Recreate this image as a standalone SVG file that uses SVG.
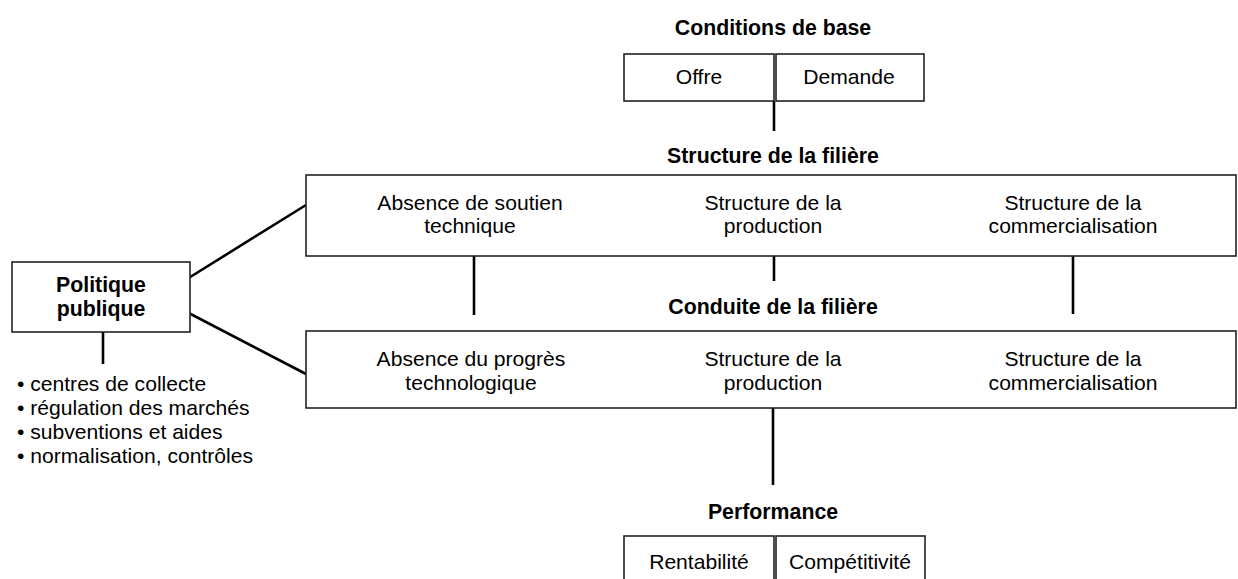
<svg xmlns="http://www.w3.org/2000/svg" width="1238" height="579" viewBox="0 0 1238 579">
<style>
text{font-family:"Liberation Sans",Arial,Helvetica,sans-serif;font-size:21.1px;fill:#000}
.b{font-weight:bold;font-size:21.3px}
.c{text-anchor:middle}
.box{fill:#fff;stroke:#222;stroke-width:1.6}
.ln{stroke:#000;stroke-width:2.6;fill:none}
</style>
<rect width="1238" height="579" fill="#fff"/>
<g id="connectors">
<line class="ln" x1="774" y1="101" x2="774" y2="131"/>
<line class="ln" x1="585" y1="218" x2="682" y2="218"/>
<line class="ln" x1="866" y1="218" x2="963" y2="218"/>
<line class="ln" x1="577" y1="378" x2="689" y2="378"/>
<line class="ln" x1="871" y1="378" x2="967" y2="378"/>
<line class="ln" x1="474" y1="256" x2="474" y2="315"/>
<line class="ln" x1="774" y1="256" x2="774" y2="281"/>
<line class="ln" x1="1073" y1="256" x2="1073" y2="314"/>
<line class="ln" x1="773" y1="408" x2="773" y2="485"/>
<line class="ln" x1="187" y1="279" x2="306" y2="205"/>
<line class="ln" x1="181" y1="309" x2="306" y2="374"/>
<line class="ln" x1="103" y1="332" x2="103" y2="364"/>
</g>
<g id="conditions">
<text class="b c" x="773" y="35">Conditions de base</text>
<rect class="box" x="624" y="54" width="150" height="47"/>
<rect class="box" x="776" y="54" width="148" height="47"/>
<text class="c" x="699" y="84">Offre</text>
<text class="c" x="849" y="84">Demande</text>
</g>
<g id="structure">
<text class="b c" x="773" y="163">Structure de la filière</text>
<rect class="box" x="306" y="175" width="930" height="81"/>
<text class="c" x="470" y="210">Absence de soutien</text>
<text class="c" x="470" y="233">technique</text>
<text class="c" x="773" y="210">Structure de la</text>
<text class="c" x="773" y="233">production</text>
<text class="c" x="1073" y="210">Structure de la</text>
<text class="c" x="1073" y="233">commercialisation</text>
</g>
<g id="conduite">
<text class="b c" x="773" y="314">Conduite de la filière</text>
<rect class="box" x="306" y="331" width="930" height="77"/>
<text class="c" x="471" y="366">Absence du progrès</text>
<text class="c" x="471" y="390">technologique</text>
<text class="c" x="773" y="366">Structure de la</text>
<text class="c" x="773" y="390">production</text>
<text class="c" x="1073" y="366">Structure de la</text>
<text class="c" x="1073" y="390">commercialisation</text>
</g>
<g id="politique">
<rect class="box" x="12" y="262" width="178" height="70"/>
<text class="b c" x="101" y="292">Politique</text>
<text class="b c" x="101" y="316">publique</text>
</g>
<g id="mesures">
<text x="17" y="391">• centres de collecte</text>
<text x="17" y="415">• régulation des marchés</text>
<text x="17" y="439">• subventions et aides</text>
<text x="17" y="463">• normalisation, contrôles</text>
</g>
<g id="performance">
<text class="b c" x="773" y="519">Performance</text>
<rect class="box" x="624" y="536" width="150" height="50"/>
<rect class="box" x="776" y="536" width="149" height="50"/>
<text class="c" x="699" y="569">Rentabilité</text>
<text class="c" x="850" y="569">Compétitivité</text>
</g>
</svg>
